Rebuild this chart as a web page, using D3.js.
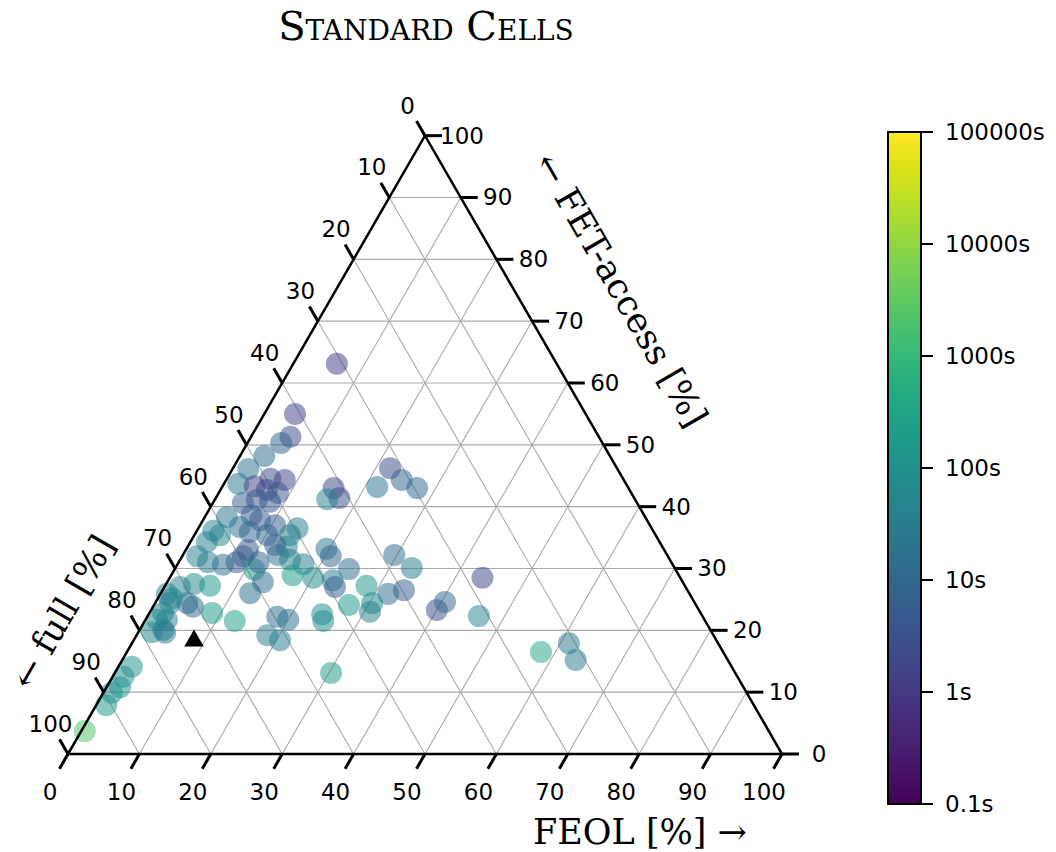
<!DOCTYPE html>
<html>
<head>
<meta charset="utf-8">
<script src="https://cdn.jsdelivr.net/npm/d3@7"></script>
<style>
  body { margin: 0; background: white; }
  svg { display: block; }
</style>
</head>
<body>
<div id="chart"></div>
<script>
// ternary shares in percent (full = 100 - feol - fetAccess), runtime in seconds
const feol = [6.1, 4.3, 5.5, 4.7, 3.4, 2.2, 2.0, 8.2, 6.1, 4.5,
  6.5, 8.3, 4.2, 5.9, 7.9, 3.1, 6.4, 8.0, 10.5, 2.3,
  3.6, 5.7, 7.5, 10.2, 13.4, 13.9, 2.3, 13.9, 12.1, 8.7,
  8.1, 8.5, 2.1, 4.1, 6.4, 11.2, 11.2, 13.3, 15.4, 17.6,
  19.6, 20.8, 24.4, 17.0, 20.1, 23.0, 23.9, 13.4, 12.5, 28.2,
  31.9, 33.8, 27.3, 30.4, 30.8, 40.0, 40.5, 46.4, 24.3, 25.0,
  58.0, 61.2, 63.5, 30.3, 43.8, 29.6, 33.1, 22.0, 24.6, 27.4,
  21.7, 15.7, 17.3, 15.7, 18.2, 20.0, 18.3, 20.5, 12.6, 8.8,
  6.3, 3.9, 4.5, 5.6, 2.0, 0.9, 2.1, 1.9, 3.0, 1.6,
  1.9, 3.3, 3.8, 1.9, 1.5, 1.9, 1.2, 1.4, 0.5, 2.2];
const fetAccess = [63.1, 55.0, 51.3, 50.3, 48.2, 46.1, 43.7, 44.3, 44.5, 43.3,
  42.7, 42.2, 40.6, 41.1, 40.8, 38.3, 38.6, 37.8, 37.0, 36.1,
  35.4, 36.7, 35.9, 35.4, 35.4, 36.5, 34.3, 33.5, 33.8, 33.0,
  31.0, 32.0, 32.0, 31.0, 30.6, 29.8, 31.0, 32.2, 31.4, 30.7,
  33.2, 32.0, 29.9, 28.9, 28.5, 28.1, 27.0, 27.8, 26.0, 27.2,
  25.9, 26.5, 24.1, 24.4, 23.0, 23.3, 24.6, 22.3, 22.6, 21.5,
  16.5, 17.9, 15.2, 13.1, 28.5, 32.2, 30.1, 46.2, 44.3, 43.0,
  43.2, 43.0, 41.4, 41.2, 22.2, 21.7, 19.2, 18.4, 21.5, 22.8,
  27.2, 27.5, 24.4, 23.8, 25.2, 25.9, 24.4, 22.8, 21.7, 21.7,
  19.7, 20.1, 19.6, 14.1, 12.5, 10.8, 9.9, 7.9, 3.7, 27.0];
const runtime = [1.3, 1.6, 2.5, 8, 13, 20, 25, 1.6, 2, 1.6,
  2, 4, 6.3, 4, 5, 20, 6.3, 5, 6.3, 40,
  50, 16, 8, 8, 25, 32, 32, 50, 6.3, 3.2,
  3.2, 6.3, 40, 32, 13, 160, 8, 16, 40, 32,
  20, 8, 13, 200, 63, 32, 6.3, 13, 13, 160,
  13, 6.3, 160, 63, 40, 2.5, 10, 50, 63, 79,
  320, 25, 25, 200, 2, 13, 32, 2.5, 8, 10,
  20, 2, 2.5, 40, 13, 16, 32, 32, 250, 200,
  160, 63, 10, 13, 50, 40, 50, 50, 40, 63,
  63, 50, 20, 100, 79, 100, 100, 160, 2000, 50];
// black marker
const refFeol = 8.5, refFet = 18.3;

const gridSteps = [10, 20, 30, 40, 50, 60, 70, 80, 90];
const tickSteps = [0, 10, 20, 30, 40, 50, 60, 70, 80, 90, 100];
const cbTicks = [0.1, 1, 10, 100, 1000, 10000, 100000];
const cbLabels = ["0.1s", "1s", "10s", "100s", "1000s", "10000s", "100000s"];

const width = 1056, height = 852;
const x0 = 68, x1 = 782, yBase = 754;
const side = x1 - x0;
const triH = side * Math.sqrt(3) / 2;

const svg = d3.select("#chart").append("svg")
  .attr("width", width)
  .attr("height", height);

// horizontal position uses feol + fet/2, vertical uses fet
const xs = d3.scaleLinear().domain([0, 100]).range([x0, x1]);
const ys = d3.scaleLinear().domain([0, 100]).range([yBase, yBase - triH]);
function proj(a, b) { return [xs(a + b / 2), ys(b)]; }

const color = d3.scaleSequentialLog(d3.interpolateViridis).domain([0.1, 100000]);

const serif = "'DejaVu Serif', serif";
const sans = "'DejaVu Sans', sans-serif";

// grid
const grid = svg.append("g").attr("stroke", "#aaaaaa").attr("stroke-width", 1.1);
gridSteps.forEach(k => {
  // fet = k
  let p = proj(0, k), q = proj(100 - k, k);
  grid.append("line").attr("x1", p[0]).attr("y1", p[1]).attr("x2", q[0]).attr("y2", q[1]);
  // feol = k
  p = proj(k, 0); q = proj(k, 100 - k);
  grid.append("line").attr("x1", p[0]).attr("y1", p[1]).attr("x2", q[0]).attr("y2", q[1]);
  // full = k
  p = proj(0, 100 - k); q = proj(100 - k, 0);
  grid.append("line").attr("x1", p[0]).attr("y1", p[1]).attr("x2", q[0]).attr("y2", q[1]);
});

// points
const pts = feol.map((f, i) => ({feol: f, fet: fetAccess[i], full: 100 - f - fetAccess[i], t: runtime[i]}));
svg.append("g").selectAll("circle")
  .data(pts)
  .join("circle")
  .attr("cx", d => proj(d.feol, d.fet)[0])
  .attr("cy", d => proj(d.feol, d.fet)[1])
  .attr("r", 11)
  .attr("fill", d => color(d.t))
  .attr("fill-opacity", 0.52);

// reference marker
const rp = proj(refFeol, refFet);
svg.append("path")
  .attr("d", d3.symbol(d3.symbolTriangle, 165)())
  .attr("transform", `translate(${rp[0]},${rp[1]})`)
  .attr("fill", "black");

// triangle frame
const corners = [proj(0, 0), proj(100, 0), proj(0, 100)];
svg.append("path")
  .attr("d", d3.line()(corners) + "Z")
  .attr("fill", "none")
  .attr("stroke", "black")
  .attr("stroke-width", 2.5)
  .attr("stroke-linejoin", "miter");

// ticks
const tl = 17;
const c60 = 0.5, s60 = Math.sqrt(3) / 2;
const ticks = svg.append("g").attr("stroke", "black").attr("stroke-width", 3);
const tlab = svg.append("g").attr("font-family", sans).attr("font-size", 23)
  .attr("text-anchor", "middle").attr("dominant-baseline", "central");
tickSteps.forEach(k => {
  // bottom: FEOL
  let p = proj(k, 0);
  ticks.append("line").attr("x1", p[0]).attr("y1", p[1]).attr("x2", p[0] - tl * c60).attr("y2", p[1] + tl * s60);
  tlab.append("text").attr("x", p[0] - 18).attr("y", p[1] + 38).text(k);
  // right: FET-access
  p = proj(100 - k, k);
  ticks.append("line").attr("x1", p[0]).attr("y1", p[1]).attr("x2", p[0] + tl).attr("y2", p[1]);
  tlab.append("text").attr("x", p[0] + 37).attr("y", p[1]).text(k);
  // left: full
  p = proj(0, 100 - k);
  ticks.append("line").attr("x1", p[0]).attr("y1", p[1]).attr("x2", p[0] - tl * c60).attr("y2", p[1] - tl * s60);
  tlab.append("text").attr("x", p[0] - 17.5).attr("y", p[1] - 30).text(k);
});

// axis titles
const axFont = 35;
svg.append("text")
  .attr("x", 640).attr("y", 844)
  .attr("text-anchor", "middle")
  .attr("font-family", serif).attr("font-size", axFont)
  .text("FEOL [%] \u2192");
svg.append("text")
  .attr("transform", "translate(621,290) rotate(60)")
  .attr("text-anchor", "middle").attr("dominant-baseline", "central")
  .attr("font-family", serif).attr("font-size", axFont)
  .text("\u2190 FET-access [%]");
svg.append("text")
  .attr("transform", "translate(63,612) rotate(-60)")
  .attr("text-anchor", "middle").attr("dominant-baseline", "central")
  .attr("font-family", serif).attr("font-size", axFont)
  .text("\u2190 full [%]");

// title
svg.append("text")
  .attr("x", 426).attr("y", 40)
  .attr("text-anchor", "middle")
  .attr("font-family", serif).attr("font-size", 40)
  .style("font-variant", "small-caps")
  .text("Standard Cells");

// colorbar
const cbX = 888, cbW = 33, cbTop = 132, cbBot = 804;
const cy = d3.scaleLog().domain([0.1, 100000]).range([cbBot, cbTop]);
const defs = svg.append("defs");
const grad = defs.append("linearGradient").attr("id", "vir")
  .attr("x1", 0).attr("y1", 1).attr("x2", 0).attr("y2", 0);
d3.range(0, 1.0001, 0.05).forEach(s => {
  grad.append("stop").attr("offset", s).attr("stop-color", d3.interpolateViridis(s));
});
svg.append("rect")
  .attr("x", cbX).attr("y", cbTop).attr("width", cbW).attr("height", cbBot - cbTop)
  .attr("fill", "url(#vir)")
  .attr("stroke", "black").attr("stroke-width", 2);
const cbAxis = svg.append("g");
cbTicks.forEach((v, i) => {
  cbAxis.append("line")
    .attr("x1", cbX + cbW).attr("x2", cbX + cbW + 12)
    .attr("y1", cy(v)).attr("y2", cy(v))
    .attr("stroke", "black").attr("stroke-width", 2);
  cbAxis.append("text")
    .attr("x", cbX + cbW + 24).attr("y", cy(v))
    .attr("dominant-baseline", "central")
    .attr("font-family", sans).attr("font-size", 23)
    .text(cbLabels[i]);
});
</script>
</body>
</html>
